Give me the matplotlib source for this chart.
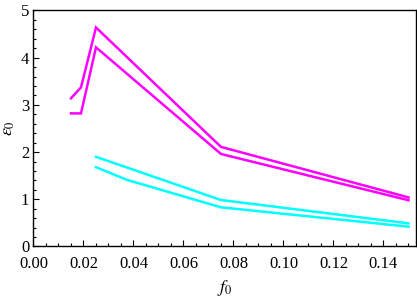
import numpy as np
import matplotlib.pyplot as plt
from matplotlib.ticker import MultipleLocator, FormatStrFormatter

# upper / lower magenta curves
f_mag_hi = [0.015, 0.019, 0.025, 0.075, 0.15]
e_mag_hi = [3.14, 3.37, 4.64, 2.11, 1.04]
f_mag_lo = [0.015, 0.019, 0.025, 0.075, 0.15]
e_mag_lo = [2.82, 2.82, 4.22, 1.96, 0.98]

# upper / lower cyan curves
f_cyan_hi = [0.025, 0.075, 0.15]
e_cyan_hi = [1.90, 0.985, 0.49]
f_cyan_lo = [0.025, 0.0375, 0.075, 0.15]
e_cyan_lo = [1.68, 1.41, 0.83, 0.42]

plt.rcParams['font.family'] = ['Liberation Serif', 'DejaVu Serif']
plt.rcParams['mathtext.fontset'] = 'stix'

fig = plt.figure(figsize=(4.17, 2.99), dpi=100)
ax = fig.add_axes([0.0803, 0.1756, 0.9173, 0.7893])

for f, e, c in [(f_mag_hi, e_mag_hi, '#ff00ff'), (f_mag_lo, e_mag_lo, '#ff00ff'),
                (f_cyan_hi, e_cyan_hi, '#00ffff'), (f_cyan_lo, e_cyan_lo, '#00ffff')]:
    ax.plot(f, e, color=c, lw=1.8, solid_joinstyle='miter')

ax.set_xlim(0, 0.153)
ax.set_ylim(0, 5)
ax.xaxis.set_major_locator(MultipleLocator(0.02))
ax.xaxis.set_minor_locator(MultipleLocator(0.005))
ax.xaxis.set_major_formatter(FormatStrFormatter('%.2f'))
ax.yaxis.set_major_locator(MultipleLocator(1))
ax.yaxis.set_minor_locator(MultipleLocator(0.2))

ax.tick_params(which='both', direction='in', top=False, right=False, labelsize=12)
ax.tick_params(which='major', length=4, width=0.8)
ax.tick_params(which='minor', length=2.2, width=0.8)
ax.tick_params(axis='x', pad=7)
ax.tick_params(axis='y', pad=3)
for s in ax.spines.values():
    s.set_linewidth(1.0)

ax.set_xlabel('$f_0$', fontsize=13, labelpad=4)
ax.set_ylabel(r'$\varepsilon_0$', fontsize=13, labelpad=3)

fig.savefig('out.png', dpi=100)
